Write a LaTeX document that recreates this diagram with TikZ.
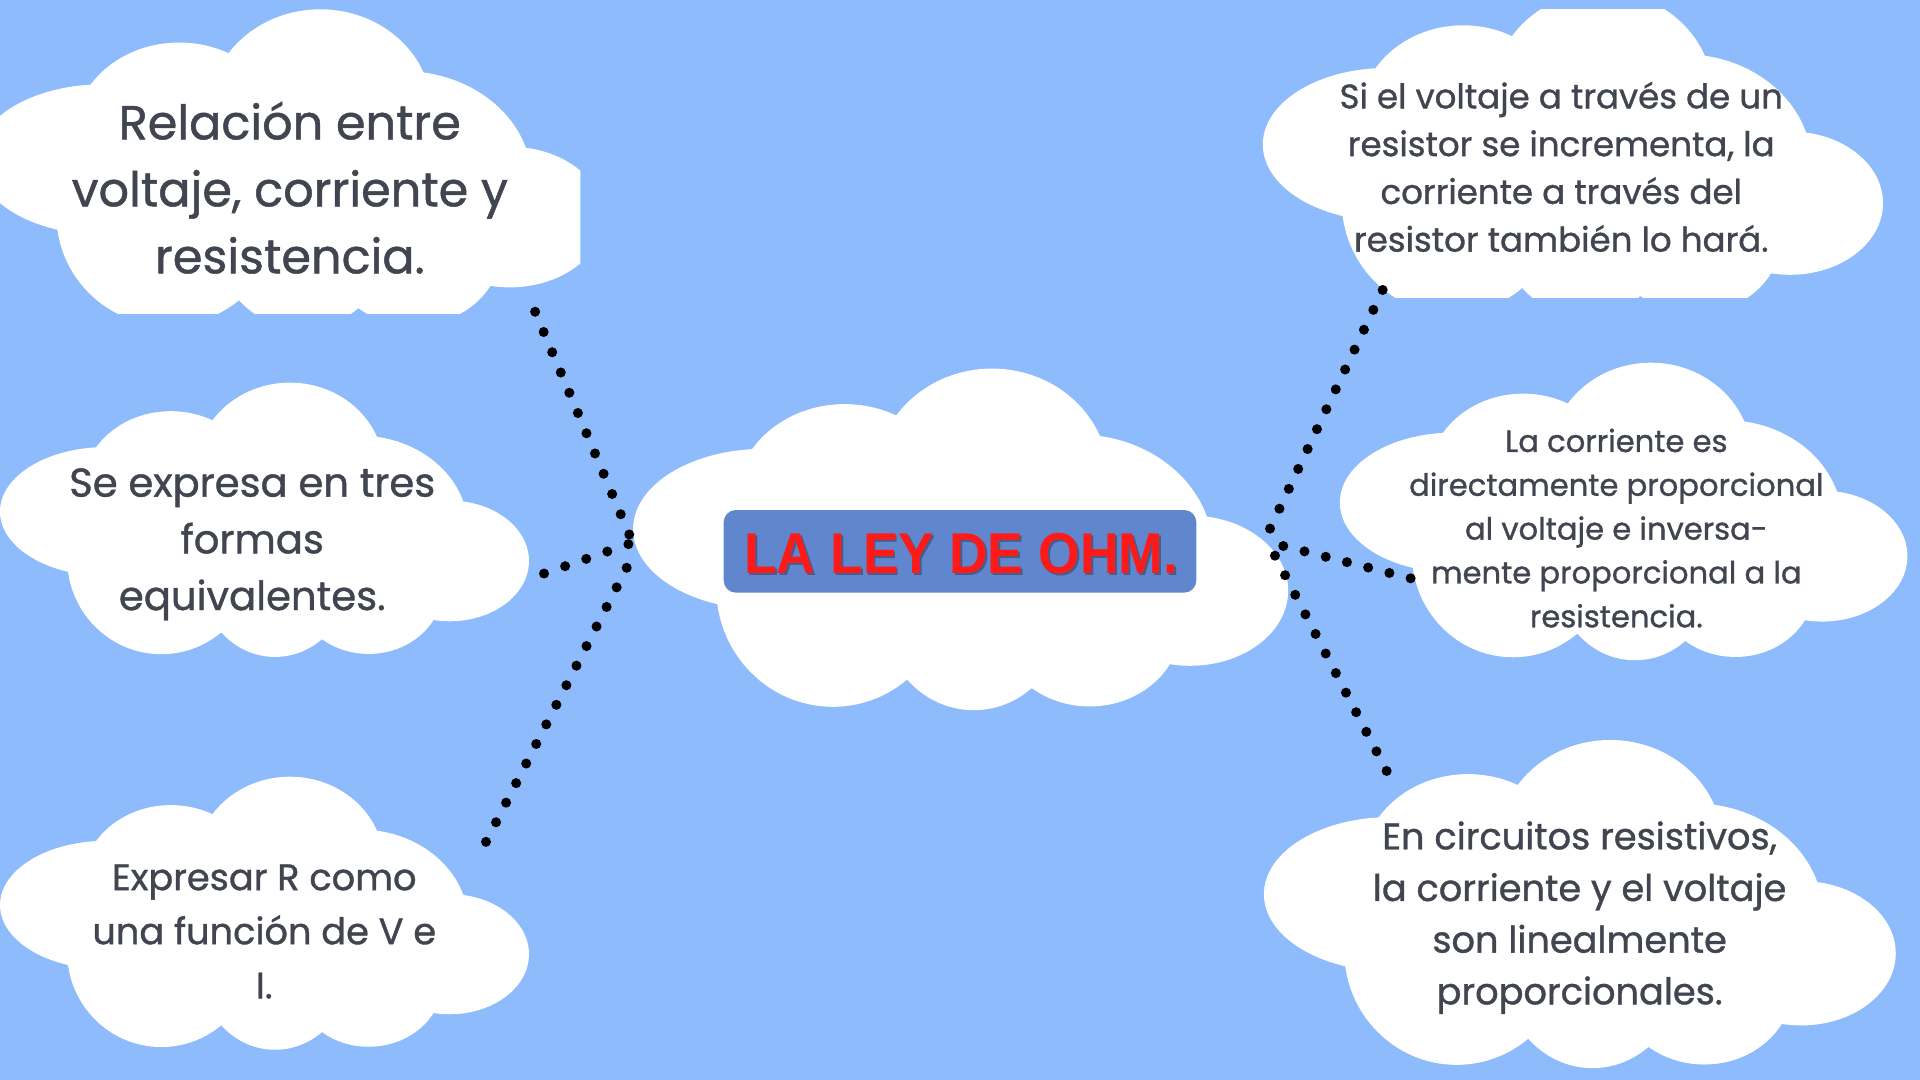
\documentclass[tikz,border=0pt]{standalone}
\usepackage{fontspec}
\setmainfont{Poppins}[FakeBold=1]
\newfontfamily\titlefont{Liberation Sans}[FakeStretch=0.93]
\usetikzlibrary{calc}
\definecolor{bg}{RGB}{141,187,251}
\definecolor{txt}{RGB}{64,69,80}
\definecolor{boxc}{RGB}{96,135,206}
\definecolor{titlered}{RGB}{255,26,26}
\newcommand\cloudat[4]{%
 \begin{scope}[shift={(#1,#2)}, xscale=#3, yscale=#4]
  \fill[white] (0.2,0.47) ellipse [x radius=0.2, y radius=0.235];
  \fill[white] (0.323,0.391) ellipse [x radius=0.168, y radius=0.287];
  \fill[white] (0.548,0.319) ellipse [x radius=0.178, y radius=0.319];
  \fill[white] (0.679,0.534) ellipse [x radius=0.206, y radius=0.341];
  \fill[white] (0.85,0.65) ellipse [x radius=0.15, y radius=0.22];
  \fill[white] (0.697,0.749) ellipse [x radius=0.14, y radius=0.24];
  \fill[white] (0.52,0.713) ellipse [x radius=0.14, y radius=0.287];
  \fill[white] (0.305,0.642) ellipse [x radius=0.178, y radius=0.348];
  \fill[white] (0.5,0.55) ellipse [x radius=0.33, y radius=0.3];
 \end{scope}}
\newcommand\dotline[3]{%
 \foreach \k in {0,...,#3}{\fill[black] ($(#1)!\k/#3!(#2)$) circle [radius=4.1];}}
\tikzset{
 ctext/.style={text=txt, align=center, inner sep=0pt, anchor=base},
 titlebox/.style={fill=boxc, rounded corners=10pt, minimum width=386pt, minimum height=67.5pt, inner sep=0pt},
 titletxt/.style={font=\titlefont\bfseries\fontsize{47}{50}\selectfont, inner sep=0pt, anchor=base}
}
\begin{document}
\begin{tikzpicture}[x=1pt,y=-1pt]
\useasboundingbox (0,0) rectangle (1568,882);
\fill[bg] (0,0) rectangle (1568,882);
% clouds
\begin{scope}
 \clip (-30,-10) rectangle (474,256);
 \cloudat{-19}{7.6}{512}{261}
\end{scope}
\cloudat{0}{312.5}{432}{224}
\cloudat{0}{634.3}{432}{223}
\begin{scope}
 \clip (1000,7.6) rectangle (1600,243);
 \cloudat{1031.3}{-7}{506.5}{266}
\end{scope}
\cloudat{1094.2}{296.2}{463.5}{243}
\cloudat{1032.2}{604.3}{516}{268}
\cloudat{517}{301}{535}{279}
% title
\node[titlebox] (tbox) at (784,450.25) {};
\node[titletxt, text=black, opacity=0.3] (tshadow) at (786.5,470.2) {LA LEY DE OHM.};
\node[titletxt, text=titlered] (title) at (785,468.2) {LA LEY DE OHM.};
% texts (anchor = baseline of last line)
\node[ctext, font=\fontsize{39}{54.7}\selectfont] (t1) at (236.7,223.2) {Relación entre\\voltaje, corriente y\\resistencia.};
\node[ctext, font=\fontsize{32.8}{46.3}\selectfont] (t2) at (206,498.2) {Se expresa en tres\\formas\\equivalentes.};
\node[ctext, font=\fontsize{30}{44.2}\selectfont] (t3) at (215.8,815.3) {Expresar R como\\una función de V e\\I.};
\node[ctext, font=\fontsize{27.8}{39}\selectfont] (t4) at (1275,205.5) {Si el voltaje a través de un\\resistor se incrementa, la\\corriente a través del\\resistor también lo hará.};
\node[ctext, font=\fontsize{25}{35.8}\selectfont] (t5) at (1320,512.3) {La corriente es\\directamente proporcional\\al voltaje e inversa-\\mente proporcional a la\\resistencia.};
\node[ctext, font=\fontsize{30}{42.2}\selectfont] (t6) at (1290,820.2) {En circuitos resistivos,\\la corriente y el voltaje\\son linealmente\\proporcionales.};
% connector end points
\coordinate (a1) at (437,254.6);   \coordinate (a2) at (513.9,436.5);
\coordinate (b1) at (444.3,468.4); \coordinate (b2) at (513.2,444.4);
\coordinate (c1) at (511.8,463.7); \coordinate (c2) at (396.9,687.5);
\coordinate (d1) at (1129.2,236.8); \coordinate (d2) at (1037.2,431.7);
\coordinate (e1) at (1048,445.9);  \coordinate (e2) at (1152,472.3);
\coordinate (f1) at (1041.2,453.8); \coordinate (f2) at (1132.4,629.6);
\dotline{a1}{a2}{11}
\dotline{b1}{b2}{4}
\dotline{c1}{c2}{14}
\dotline{d1}{d2}{12}
\dotline{e1}{e2}{6}
\dotline{f1}{f2}{11}
\end{tikzpicture}
\end{document}
